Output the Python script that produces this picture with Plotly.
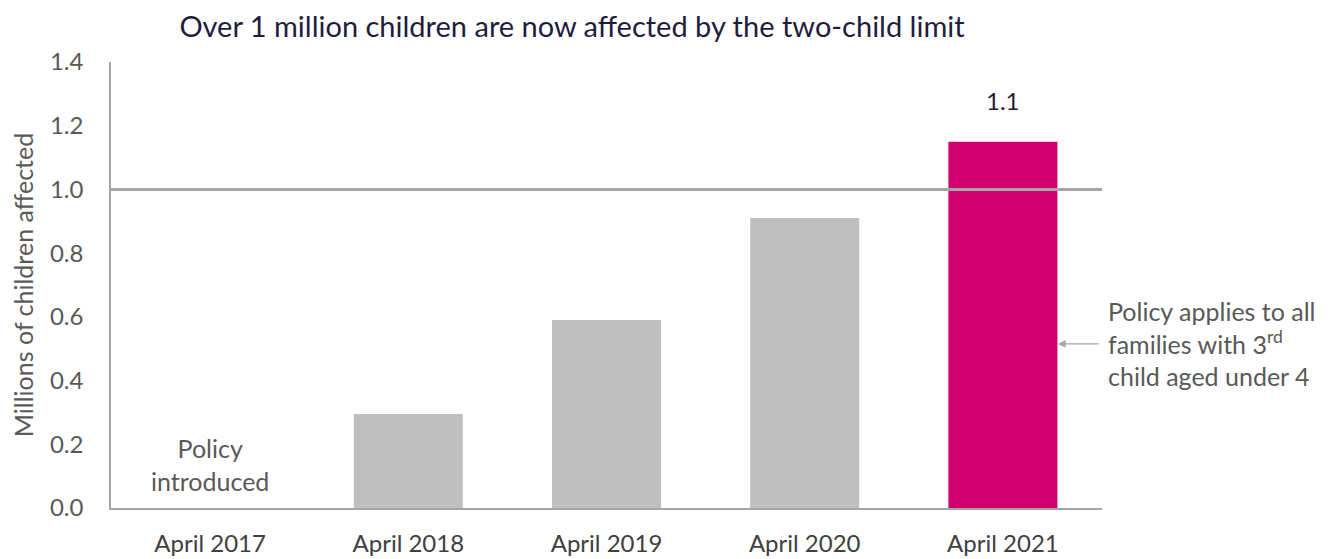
import plotly.graph_objects as go

categories = ["April 2017", "April 2018", "April 2019", "April 2020", "April 2021"]
values = [0, 0.295, 0.59, 0.91, 1.15]
bar_colors = ["#bfbfbf", "#bfbfbf", "#bfbfbf", "#bfbfbf", "#d1006f"]
value_labels = ["", "", "", "", "1.1"]
y_ticks = [0, 0.2, 0.4, 0.6, 0.8, 1.0, 1.2, 1.4]

FONT = "Lato"
W, H = 1321, 551  # page has an 8px body margin
fig = go.Figure()
fig.add_trace(go.Bar(x=categories, y=values, marker=dict(color=bar_colors, line=dict(width=0)),
                     hoverinfo="skip"))

fig.update_layout(
    width=W, height=H,
    margin=dict(l=103, r=227, t=54, b=51),
    plot_bgcolor="white", paper_bgcolor="white",
    bargap=0.45,
    showlegend=False,
    font=dict(family=FONT, color="#595959", size=24),
    title=dict(text="Over 1 million children are now affected by the two-child limit",
               x=564/W, xanchor="center", y=1-19/H, yanchor="middle",
               font=dict(family=FONT, size=29, color="#1f1d3d")),
)
fig.update_xaxes(showline=True, linecolor="#a6a6a6", linewidth=1.5, ticks="",
                 type="category", categoryorder="array", categoryarray=categories,
                 range=[-0.5, len(categories) - 0.5], automargin=False,
                 tickfont=dict(size=24, color="#404040"), showgrid=False, ticklabelstandoff=13)
fig.update_yaxes(range=[0, 1.4], tickvals=y_ticks, tickformat=".1f", showline=True,
                 linecolor="#a6a6a6", linewidth=1.5, showgrid=False, zeroline=False,
                 automargin=False,
                 ticks="", tickfont=dict(size=24, color="#595959"), ticklabelstandoff=21,
                 title=dict(text="Millions of children affected", standoff=12,
                            font=dict(size=25, color="#595959")))

# 1.0 reference line
fig.add_shape(type="line", xref="paper", yref="y", x0=0, x1=1, y0=1.0, y1=1.0,
              line=dict(color="#a6a6a6", width=3))

for c, v, lab in zip(categories, values, value_labels):
    if lab:
        fig.add_annotation(x=c, y=v + 0.13, text=lab, showarrow=False,
                           font=dict(size=24, color="#1f1d3d"))

fig.add_annotation(x=categories[0], y=0.138, text="Policy<br>introduced", showarrow=False,
                   font=dict(size=25, color="#595959"))

# note with an arrow pointing to the last bar
fig.add_annotation(x=0.9555, y=0.515, xref="paper", yref="y", ax=41, ay=0,
                   xanchor="left", yanchor="middle", borderpad=8,
                   text="Policy applies to all<br>families with 3<sup>rd</sup><br>child aged under 4",
                   showarrow=True, arrowhead=2, arrowsize=1.3, arrowwidth=1.2, arrowcolor="#a6a6a6",
                   align="left", font=dict(size=25, color="#595959"))

fig.write_html("out.html")
